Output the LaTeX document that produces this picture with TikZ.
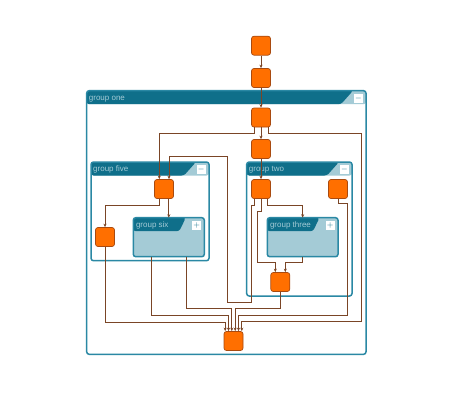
\documentclass[tikz,border=0pt]{standalone}
\usepackage{fontspec}
\setmainfont{Liberation Sans}
\usepackage{tikz}
\usetikzlibrary{arrows.meta}

\definecolor{hddark}{HTML}{0F6F8A}
\definecolor{hdlight}{HTML}{A4CBD6}
\definecolor{grpline}{HTML}{2A88A4}
\definecolor{nodefill}{HTML}{FF6F00}
\definecolor{nodeline}{HTML}{A84A10}
\definecolor{linkcol}{HTML}{7A4526}

\tikzset{
    grp/.style={rectangle, rounded corners=2.5pt, draw=grpline, line width=1.5pt,
        inner sep=0pt, outer sep=0pt, anchor=north west,
        path picture={
            \fill[hdlight] (path picture bounding box.north west) rectangle
                ([yshift=-13.5pt]path picture bounding box.north east);
            \fill[hddark] (path picture bounding box.north west)
                -- ([xshift=-#1]path picture bounding box.north east)
                -- ([xshift=-25pt,yshift=-13.5pt]path picture bounding box.north east)
                -- ([yshift=-13.5pt]path picture bounding box.north west) -- cycle;}},
    grpopen/.style={grp=13pt, fill=white},
    grpshut/.style={grp=18.5pt, fill=hdlight},
    hdtext/.style={anchor=base west, text=hdlight, inner sep=0pt,
        font=\fontsize{8}{9.5}\selectfont},
    btn/.style={rectangle, fill=white, minimum size=8.5pt, inner sep=0pt,
        text=hddark, font=\fontsize{8}{8}\selectfont\bfseries},
    box/.style={rectangle, rounded corners=2.5pt, draw=nodeline, fill=nodefill,
        line width=0.7pt, minimum size=19pt, inner sep=0pt},
    link/.style={draw=linkcol, line width=0.75pt, -{Stealth[length=3.5pt,width=3pt]}},
}

\begin{document}
\begin{tikzpicture}[x=1pt, y=-1pt]
        \useasboundingbox[fill=white] (0,0) rectangle (460,400);

        % groups
        \node[grpopen, minimum width=279.3pt, minimum height=263.6pt] (gone) at (86.7,90.7) {};
        \node[grpopen, minimum width=118pt, minimum height=98.7pt] (gfive) at (91,162) {};
        \node[grpopen, minimum width=105.3pt, minimum height=134pt] (gtwo) at (246.7,162) {};
        \node[grpshut, minimum width=71pt, minimum height=39pt] (gsix) at (133.3,217.7) {};
        \node[grpshut, minimum width=70.7pt, minimum height=39pt] (gthree) at (267.3,217.7) {};

        \node[hdtext] (lone) at ([xshift=2pt,yshift=-9.5pt]gone.north west) {group one};
        \node[hdtext] (lfive) at ([xshift=2pt,yshift=-9.5pt]gfive.north west) {group five};
        \node[hdtext] (ltwo) at ([xshift=2pt,yshift=-9.5pt]gtwo.north west) {group two};
        \node[hdtext] (lsix) at ([xshift=2.5pt,yshift=-9.5pt]gsix.north west) {group six};
        \node[hdtext] (lthree) at ([xshift=2.5pt,yshift=-9.5pt]gthree.north west) {group three};

        \node[btn] (bone) at ([xshift=-7.7pt,yshift=-7.7pt]gone.north east) {$-$};
        \node[btn] (bfive) at ([xshift=-7.7pt,yshift=-7.7pt]gfive.north east) {$-$};
        \node[btn] (btwo) at ([xshift=-7.7pt,yshift=-7.7pt]gtwo.north east) {$-$};
        \node[btn] (bsix) at ([xshift=-7.7pt,yshift=-7.7pt]gsix.north east) {$+$};
        \node[btn] (bthree) at ([xshift=-7.7pt,yshift=-7.7pt]gthree.north east) {$+$};

        % nodes
        \node[box] (n1) at (261,45.7) {};
        \node[box] (n2) at (261,78) {};
        \node[box] (n3) at (261,117.5) {};
        \node[box] (n4) at (261,149) {};
        \node[box] (n5) at (164,189) {};
        \node[box] (n6) at (261,189) {};
        \node[box] (n7) at (338,189) {};
        \node[box] (n8) at (105,237) {};
        \node[box] (n9) at (280.3,282) {};
        \node[box] (n10) at (233.5,341) {};

        % links
        \draw[link] (n1) -- (n2);
        \draw[link] (n2) -- (n3);
        \draw[link] (n3) -- (n4);
        \draw[link] (n4) -- (n6);
        \draw[link] ([xshift=-7pt]n3.south) -- ++(0,6.3) -| ([xshift=-4.7pt]n5.north);
        \draw[link] ([xshift=7pt]n3.south) -- ++(0,6.3) -| (361.7,321.7) -| ([xshift=8.3pt]n10.north);
        \draw[link] ([xshift=-6.5pt]n6.south) -- ++(0,6.5) -| (251.5,302.7) -| (227.7,156) -| ([xshift=5pt]n5.north);
        \draw[link] (n6.south) -- ++(0,12.2) -| (257.7,262.7) -| ([xshift=-5pt]n9.north);
        \draw[link] ([xshift=6pt]n6.south) -- ++(0,6.5) -| (gthree.north);
        \draw[link] (gthree.south) -- ++(0,6) -| ([xshift=5pt]n9.north);
        \draw[link] ([xshift=-4.7pt]n5.south) -- ++(0,6.5) -| (n8.north);
        \draw[link] (gsix.north |- n5.south) -- (gsix.north);
        \draw[link] (n7.south) -- ++(0,4.8) -| (347.3,315) -| ([xshift=5pt]n10.north);
        \draw[link] (n8.south) -- ++(0,75.2) -| ([xshift=-8.3pt]n10.north);
        \draw[link] ([xshift=-17pt]gsix.south) -- ++(0,58.3) -| ([xshift=-5pt]n10.north);
        \draw[link] ([xshift=18pt]gsix.south) -- ++(0,51.6) -| ([xshift=-1.7pt]n10.north);
        \draw[link] (n9.south) -- ++(0,16.8) -| ([xshift=1.7pt]n10.north);
    \end{tikzpicture}
\end{document}
